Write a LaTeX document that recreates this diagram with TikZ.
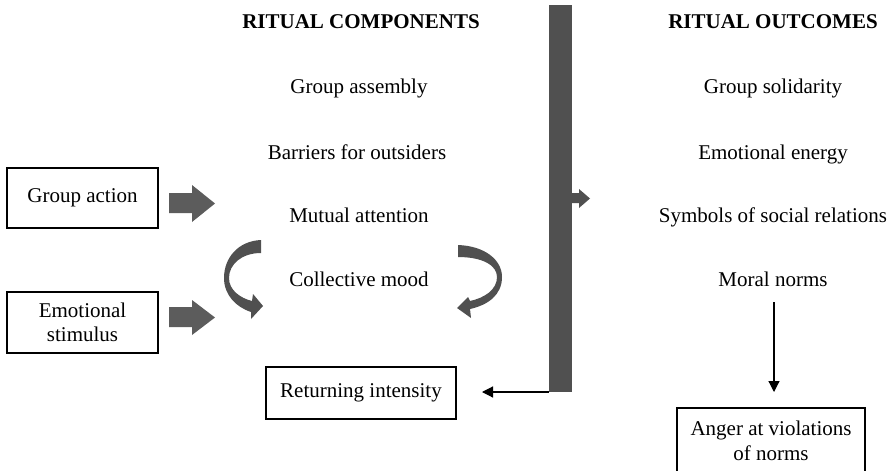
\documentclass[tikz,border=0pt]{standalone}
\usepackage{fontspec}
\setmainfont{Liberation Serif}
\usetikzlibrary{arrows.meta}
\definecolor{barcol}{RGB}{80,80,80}
\definecolor{blockcol}{RGB}{92,92,92}
\tikzset{
  lbl/.style={font=\fontsize{21}{24}\selectfont, inner sep=0pt, anchor=base},
  head/.style={font=\fontsize{21}{24}\selectfont\bfseries, inner sep=0pt, anchor=base},
  box/.style={draw, line width=1.3pt, inner sep=0pt, align=center, font=\fontsize{21}{24.5}\selectfont},
  thin/.style={line width=1.2pt, -{Triangle[length=11pt,width=11pt]}},
}
\begin{document}
\begin{tikzpicture}[x=1pt,y=-1pt]
\clip (0,0) rectangle (892,471);
\fill[white] (0,0) rectangle (892,471);
% headings
\node[head] (h1) at (361,28) {RITUAL COMPONENTS};
\node[head] (h2) at (773,28) {RITUAL OUTCOMES};
% left column
\node[lbl] (ga) at (359,93) {Group assembly};
\node[lbl] (ba) at (357,159) {Barriers for outsiders};
\node[lbl] (ma) at (359,222) {Mutual attention};
\node[lbl] (cm) at (359,286) {Collective mood};
% right column
\node[lbl] (gs) at (773,93) {Group solidarity};
\node[lbl] (ee) at (773,159) {Emotional energy};
\node[lbl] (ss) at (773,222) {Symbols of social relations};
\node[lbl] (mn) at (773,286) {Moral norms};
% boxes
\node[box, minimum width=151pt, minimum height=60pt] (gact) at (82.5,198) {Group action};
\node[box, minimum width=151pt, minimum height=61pt] (estim) at (82.5,322.5) {Emotional\\stimulus};
\node[box, minimum width=190pt, minimum height=52pt] (ret) at (361,393) {Returning intensity};
\node[box, minimum width=188pt, minimum height=66pt] (anger) at (771,441) {Anger at violations\\of norms};
% bar
\node[fill=barcol, inner sep=0pt, minimum width=23pt, minimum height=387pt] (bar) at (560.5,198.5) {};
% small arrow out of bar
\fill[barcol] (bar.east |- 0,193) -- (579,193) -- (579,189) -- (590,198.5) -- (579,208) -- (579,203) -- (bar.east |- 0,203) -- cycle;
% block arrows
\fill[blockcol] (169,193) -- (192,193) -- (192,185) -- (215,203.5) -- (192,222) -- (192,213) -- (169,213) -- cycle;
\fill[blockcol] (169,307) -- (192,307) -- (192,300) -- (215,317.5) -- (192,335) -- (192,327) -- (169,327) -- cycle;
% curved arrows
\fill[barcol] (261,240) .. controls (238,241) and (224,258) .. (224,278)
  .. controls (224,295) and (236,307) .. (251,312) -- (251,319) -- (263,306) -- (253,294)
  -- (252,301) .. controls (240,298) and (229,290) .. (229,278)
  .. controls (229,264) and (242,253) .. (261,253) -- cycle;
\fill[barcol] (458,245) .. controls (485,246) and (502,260) .. (502,277)
  .. controls (502,295) and (488,305) .. (470,309) -- (471,318) -- (457,308) -- (468,297)
  -- (470,301) .. controls (484,298) and (497,290) .. (497,277)
  .. controls (497,265) and (482,257) .. (458,257) -- cycle;
% thin arrows
\coordinate (retend) at (482,392);
\draw[thin] (bar.south west |- 0,392) -- (retend);
\coordinate (mnstart) at (774,302);
\coordinate (mnend) at (774,392);
\draw[thin] (mnstart) -- (mnend);
\end{tikzpicture}
\end{document}
